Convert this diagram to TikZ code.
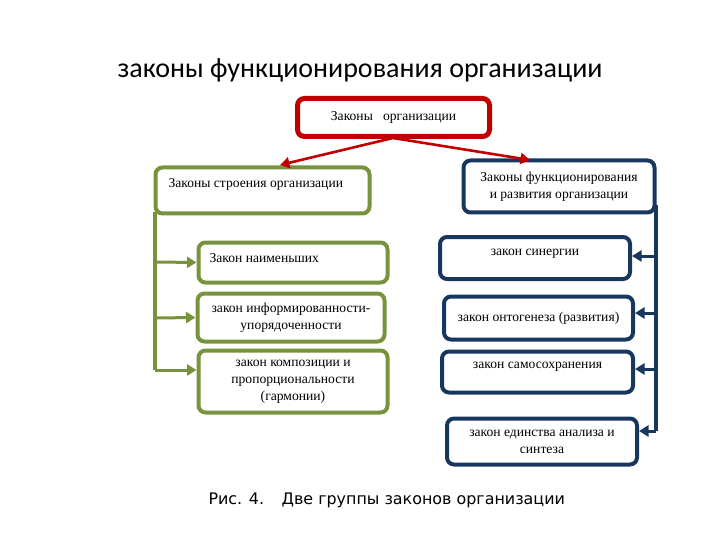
\documentclass[tikz,border=0pt]{standalone}
\usepackage{fontspec}
\setmainfont{Liberation Serif}
\newfontfamily\titlefont{Carlito}
\newfontfamily\capfont{DejaVu Sans}
\usetikzlibrary{arrows.meta}
\definecolor{cred}{HTML}{C00000}
\definecolor{cgreen}{HTML}{77933C}
\definecolor{cblue}{HTML}{17375E}
\tikzset{
  boxfont/.style={font=\fontsize{13.6}{17}\selectfont},
  box/.style={draw, line width=4pt, rounded corners=7pt, fill=white, inner sep=0pt, boxfont, align=center},
  gbox/.style={box, draw=cgreen},
  bbox/.style={box, draw=cblue},
  rbox/.style={box, draw=cred, line width=5pt},
  garr/.style={draw=cgreen, line width=3pt, -{Triangle[length=9.5pt,width=11pt]}},
  barr/.style={draw=cblue, line width=3pt, -{Triangle[length=9.5pt,width=11pt]}},
  rarr/.style={draw=cred, line width=2.6pt, -{Triangle[length=9.5pt,width=11pt]}},
}
\begin{document}
\begin{tikzpicture}[x=1pt,y=-1pt]
\useasboundingbox (0,0) rectangle (720,540);
\node[font=\titlefont\fontsize{28}{32}\selectfont] (title) at (360,70) {законы функционирования организации};
% red top
\node[rbox, minimum width=192pt, minimum height=38pt] (top) at (393.5,117.5) {Законы \ \ организации};
% green top
\node[gbox, minimum width=214pt, minimum height=46pt] (gtop) at (262.5,190.5) {};
\node[anchor=west, boxfont] (gtoplbl) at (165,184) {Законы строения организации};
% blue top
\node[bbox, minimum width=191pt, minimum height=52pt] (btop) at (559,186.5) {Законы функционирования\\и развития организации};
% red arrows
\coordinate (tb) at (393,138);
\coordinate (gt) at (280,165);
\coordinate (bt) at (530,160);
\draw[rarr] (tb) -- (gt);
\draw[rarr] (tb) -- (bt);
% green children
\node[gbox, minimum width=189pt, minimum height=40pt] (g1) at (293,262.5) {};
\node[anchor=west, boxfont] (g1lbl) at (206,258) {Закон наименьших};
\node[gbox, minimum width=187pt, minimum height=48pt] (g2) at (291,317.5) {закон информированности-\\упорядоченности};
\node[gbox, minimum width=189pt, minimum height=62pt] (g3) at (293,381.5) {закон композиции и\\пропорциональности\\(гармонии)};
% green spine
\coordinate (gs0) at (155,212);
\coordinate (gs1) at (155,262);
\coordinate (gs2) at (155,318);
\coordinate (gs3) at (155,370);
\draw[draw=cgreen, line width=3.5pt] (gs0) -- (gs3);
\draw[garr] (gs1) -- (g1.west);
\draw[garr] (gs2) -- (g2.west);
\draw[garr] (gs3) -- (g3.west |- gs3);
% blue children
\node[bbox, minimum width=190pt, minimum height=42pt] (b1) at (535,258) {};
\node[boxfont] (b1lbl) at (535,254) {закон синергии};
\node[bbox, minimum width=189pt, minimum height=43pt] (b2) at (538.5,318) {закон онтогенеза (развития)};
\node[bbox, minimum width=191pt, minimum height=41pt] (b3) at (537.5,372) {};
\node[boxfont] (b3lbl) at (537.5,367) {закон самосохранения};
\node[bbox, minimum width=190pt, minimum height=46pt] (b4) at (542,441.5) {закон единства анализа и\\синтеза};
% blue spine
\coordinate (bs0) at (656,205);
\coordinate (bs1) at (656,256);
\coordinate (bs2) at (656,313);
\coordinate (bs3) at (656,369);
\coordinate (bs4) at (656,431);
\draw[draw=cblue, line width=3.5pt] (bs0) -- (bs4);
\draw[barr] (bs1) -- (b1.east |- bs1);
\draw[barr] (bs2) -- (b2.east |- bs2);
\draw[barr] (bs3) -- (b3.east |- bs3);
\draw[barr] (bs4) -- (b4.east |- bs4);
% caption
\node[font=\capfont\fontsize{15.9}{18}\selectfont, anchor=west] (cap) at (205,500) {Рис. 4.\hspace{1.1em}Две группы законов организации};
\end{tikzpicture}
\end{document}
